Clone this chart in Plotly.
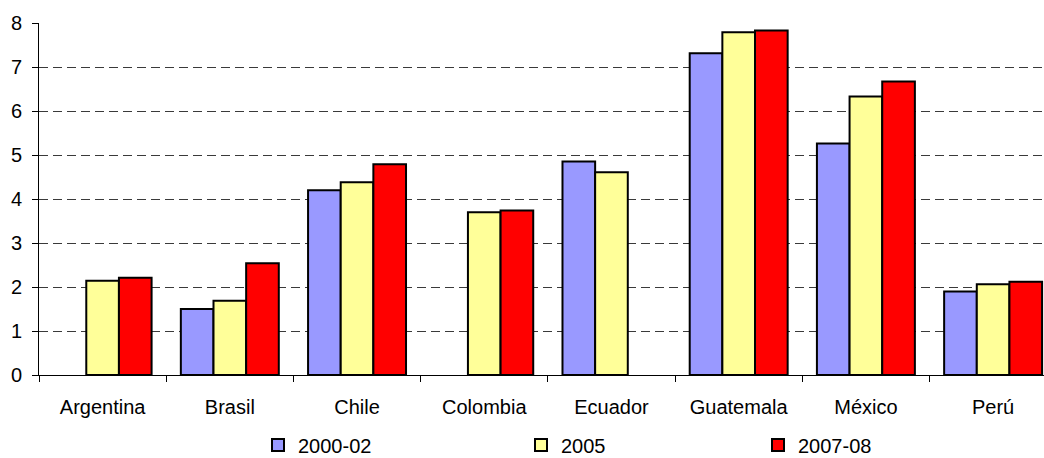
import plotly.graph_objects as go

# Categories and series values
countries = ["Argentina", "Brasil", "Chile", "Colombia", "Ecuador",
             "Guatemala", "México", "Perú"]
series_names = ["2000-02", "2005", "2007-08"]
v_2000_02 = [None, 1.50, 4.20, None, 4.85, 7.31, 5.26, 1.90]
v_2005 = [2.14, 1.69, 4.38, 3.70, 4.61, 7.79, 6.33, 2.06]
v_2007_08 = [2.21, 2.54, 4.79, 3.74, None, 7.83, 6.67, 2.12]
y_ticks = [0, 1, 2, 3, 4, 5, 6, 7, 8]

colors = ["#9999FF", "#FFFF99", "#FF0000"]
FONT = "Liberation Sans, Arial, sans-serif"
W, H = 1044, 458
M_L, M_R, M_T, M_B = 39, 0, 23, 83

fig = go.Figure()
legend_ids = ["legend", "legend2", "legend3"]
for name, vals, col, lg in zip(series_names, [v_2000_02, v_2005, v_2007_08],
                               colors, legend_ids):
    fig.add_trace(go.Bar(
        x=countries, y=vals, name=name, legend=lg, showlegend=True,
        marker=dict(color=col, line=dict(color="black", width=2)),
    ))

# Three independent legend entries placed along the bottom of the page
legend_px = [258, 521, 758]
legend_cy = 445


def legend_box(px):
    return dict(
        xref="container", yref="container",
        x=px / W, y=(H - legend_cy) / H, xanchor="left", yanchor="middle",
        orientation="h", bgcolor="rgba(0,0,0,0)", borderwidth=0,
        font=dict(family=FONT, size=20, color="black"),
        itemwidth=30,
    )


fig.update_layout(
    width=W, height=H,
    margin=dict(l=M_L, r=M_R, t=M_T, b=M_B, pad=0, autoexpand=False),
    paper_bgcolor="white", plot_bgcolor="white",
    barmode="group", bargap=0.23, bargroupgap=0,
    font=dict(family=FONT, size=20, color="black"),
    showlegend=True,
    legend=legend_box(legend_px[0]),
    legend2=legend_box(legend_px[1]),
    legend3=legend_box(legend_px[2]),
)

fig.update_xaxes(
    range=[-0.5, 7.40],
    showline=True, linecolor="black", linewidth=1,
    ticks="outside", tickson="boundaries", ticklen=6, tickcolor="black",
    tickfont=dict(family=FONT, size=20, color="black"),
    ticklabelstandoff=14,
    showgrid=False, fixedrange=True,
)
fig.update_yaxes(
    range=[0, 8], tickvals=y_ticks,
    showline=True, linecolor="black", linewidth=1,
    ticks="outside", ticklen=6, tickcolor="black",
    tickfont=dict(family=FONT, size=20, color="black"),
    ticklabelstandoff=6,
    showgrid=True, gridcolor="#3a3a3a", gridwidth=1, griddash="9px,5px",
    zeroline=False, fixedrange=True,
)

fig.write_html("out.html")
